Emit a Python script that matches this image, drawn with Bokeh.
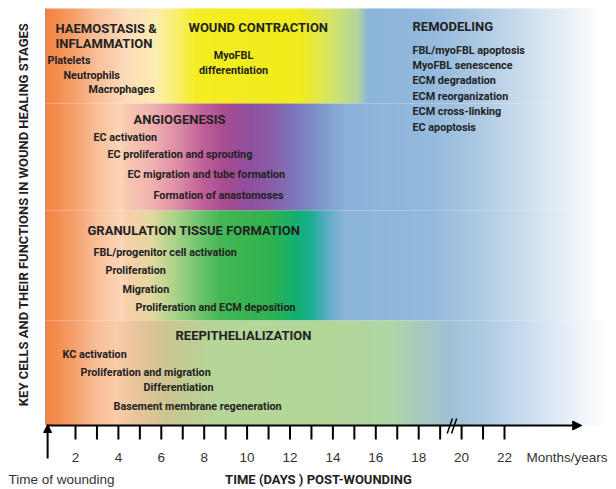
import numpy as np
from bokeh.plotting import figure
from bokeh.models import Range1d, Arrow, NormalHead
from bokeh.core.properties import value
from bokeh.embed import file_html
from bokeh.resources import INLINE

# ---------------- data ----------------
tick_days = list(range(2, 23))
label_days = [2, 4, 6, 8, 10, 12, 14, 16, 18, 20, 22]
tick_labels = [str(d) for d in label_days]
wounding_day = 0.7
axis_end_day = 25.6
break_days = [19.45, 19.65]

y_title = "KEY CELLS AND THEIR FUNCTIONS IN WOUND HEALING STAGES"
x_title = "TIME (DAYS ) POST-WOUNDING"
x_left_label = "Time of wounding"
x_right_label = "Months/years"

stage_titles = ["HAEMOSTASIS &", "INFLAMMATION", "WOUND CONTRACTION", "ANGIOGENESIS",
                "GRANULATION TISSUE FORMATION", "REEPITHELIALIZATION", "REMODELING"]
inflammation_items = ["Platelets", "Neutrophils", "Macrophages"]
contraction_items = ["MyoFBL", "differentiation"]
angiogenesis_items = ["EC activation", "EC proliferation and sprouting",
                      "EC migration and tube formation", "Formation of anastomoses"]
granulation_items = ["FBL/progenitor cell activation", "Proliferation", "Migration",
                     "Proliferation and ECM deposition"]
reepithelialization_items = ["KC activation", "Proliferation and migration",
                             "Differentiation", "Basement membrane regeneration"]
remodeling_items = ["FBL/myoFBL apoptosis", "MyoFBL senescence", "ECM degradation",
                    "ECM reorganization", "ECM cross-linking", "EC apoptosis"]

# ---------------- layout helpers ----------------
W_PX, H_PX = 616, 489
PX0, PXD = 32.1, 21.45
def day(px):
    return (px - PX0) / PXD
def yv(row):
    return H_PX - row

p = figure(width=W_PX, height=H_PX, x_range=Range1d(day(0), day(W_PX)),
           y_range=Range1d(0, H_PX), output_backend="svg", toolbar_location=None,
           min_border=0, x_axis_type=None, y_axis_type=None)
p.outline_line_color = None
p.xgrid.visible = False
p.ygrid.visible = False
p.background_fill_color = "white"
p.border_fill_color = "white"

# ---------------- gradient bands ----------------
left = [(45, "#f3843f"), (70, "#f59c66"), (95, "#f9bf98")]
blue = [(370, "#8cb5da"), (430, "#94badd"), (470, "#a8c6e2"), (500, "#bcd3e9"),
        (530, "#d0e0ef"), (560, "#e4edf6"), (585, "#f5f8fb"), (600, "#ffffff"), (606, "#ffffff")]
bands = [
    (8, 103, left + [(125, "#fcdcbc"), (155, "#fdeeb0"), (180, "#f8ef60"), (195, "#f4ee22"),
                     (300, "#f2ec1c"), (318, "#e2e84a"), (340, "#c9e07c"), (358, "#b2d4a0"),
                     (366, "#94b8d4")] + blue),
    (103, 210, left + [(120, "#fcd6b8"), (125, "#f9cab0"), (150, "#f2b4b0"), (175, "#e090a8"),
                       (200, "#c4649a"), (225, "#a64c92"), (250, "#9050a0"), (270, "#8a5ca8"),
                       (295, "#7e78bc"), (320, "#7f98cc"), (345, "#8ab2d8")] + blue[1:]),
    (210, 320, left + [(120, "#fcd6b8"), (127, "#f9d0aa"), (150, "#e4d8a0"), (175, "#a8d488"),
                       (200, "#6cc46c"), (220, "#44b854"), (270, "#30b250"), (295, "#14b070"),
                       (310, "#18ae90"), (325, "#58acc0"), (342, "#8ab4d8")] + blue[1:]),
    (320, 425, left + [(115, "#fbcca8"), (140, "#e6c49c"), (165, "#cec492"), (190, "#bfce94"),
                       (215, "#b6d698"), (330, "#b2d89a"), (390, "#b0d6a4"), (420, "#a8cac0"),
                       (450, "#a0c2d6"), (480, "#acc9e2"), (520, "#c6daed"), (560, "#e2ecf6"),
                       (590, "#f6f9fc"), (606, "#ffffff")]),
]

def hex2rgb(h):
    h = h.lstrip("#")
    return [int(h[i:i + 2], 16) for i in (0, 2, 4)]

for top, bot, stops in bands:
    xs = np.array([s[0] for s in stops], dtype=float)
    cols = np.array([hex2rgb(s[1]) for s in stops], dtype=float)
    W = 561
    cx = np.linspace(45, 606, W)
    img = np.empty((1, W), dtype=np.uint32)
    view = img.view(dtype=np.uint8).reshape((1, W, 4))
    for c in range(3):
        view[0, :, c] = np.interp(cx, xs, cols[:, c]).astype(np.uint8)
    view[0, :, 3] = 255
    p.image_rgba(image=[img], x=day(45), y=yv(bot), dw=day(606) - day(45), dh=bot - top)

# faint left border of the stage area
p.segment(x0=[day(45)], y0=[yv(8)], x1=[day(45)], y1=[yv(425)], line_color="#a89888", line_width=1)

# ---------------- axis ----------------
p.add_layout(Arrow(end=NormalHead(size=9, fill_color="black", line_color="black"),
                   x_start=wounding_day, y_start=yv(425), x_end=axis_end_day, y_end=yv(425),
                   line_width=2, line_color="black"))
p.add_layout(Arrow(end=NormalHead(size=8, fill_color="black", line_color="black"),
                   x_start=wounding_day, y_start=yv(458), x_end=wounding_day, y_end=yv(424),
                   line_width=2, line_color="black"))
p.segment(x0=tick_days, y0=[yv(425)] * len(tick_days), x1=tick_days, y1=[yv(439)] * len(tick_days),
          line_color="black", line_width=2)
p.segment(x0=[b - 0.12 for b in break_days], y0=[yv(433)] * 2,
          x1=[b + 0.12 for b in break_days], y1=[yv(418)] * 2, line_color="black", line_width=1.5)

BOLD = value("Roboto")
REG = value("Liberation Sans")
TXT = "#222222"
p.text(x=label_days, y=[yv(457)] * len(label_days), text=tick_labels, text_font=REG,
       text_font_size="13.5px", text_color="#333333", text_align="center", text_baseline="middle")
p.text(x=[day(526)], y=[yv(457)], text=[x_right_label], text_font=REG, text_font_size="13.5px",
       text_color="#333333", text_align="left", text_baseline="middle")
p.text(x=[day(8)], y=[yv(479)], text=[x_left_label], text_font=REG, text_font_size="13.5px",
       text_color="#333333", text_align="left", text_baseline="middle")
p.text(x=[day(318)], y=[yv(479)], text=[x_title], text_font=BOLD, text_font_size="13px",
       text_font_style="bold", text_color=TXT, text_align="center", text_baseline="middle")
p.text(x=[day(23)], y=[yv(214)], text=[y_title], text_font=BOLD, text_font_size="13px",
       text_font_style="bold", text_color=TXT, text_align="center", text_baseline="middle",
       angle=np.pi / 2)

# ---------------- stage texts ----------------
title_pos = [(55, 28), (55, 43), (188, 27), (133, 119), (87, 230), (175, 335), (412, 26)]
p.text(x=[day(a) for a, b in title_pos], y=[yv(b) for a, b in title_pos], text=stage_titles,
       text_font=BOLD, text_font_size="13px", text_font_style="bold", text_color=TXT,
       text_align="left", text_baseline="middle")

def items(lst, pos, align="left"):
    p.text(x=[day(a) for a, b in pos], y=[yv(b) for a, b in pos], text=lst, text_font=BOLD,
           text_font_size="10.8px", text_font_style="bold", text_color=TXT,
           text_align=align, text_baseline="middle")

items(inflammation_items, [(47, 60), (63, 75), (88, 89)])
items(contraction_items, [(233, 55), (233, 70)], align="center")
items(angiogenesis_items, [(93, 137), (107, 154), (127, 174), (153, 195)])
items(granulation_items, [(93, 252), (105, 270), (122, 289), (135, 307)])
items(reepithelialization_items, [(62, 354), (80, 372), (143, 387), (113, 406)])
items(remodeling_items, [(412, 50), (412, 65), (412, 80), (412, 96), (412, 111), (412, 127)])

open("out.html", "w").write(file_html(p, INLINE))
